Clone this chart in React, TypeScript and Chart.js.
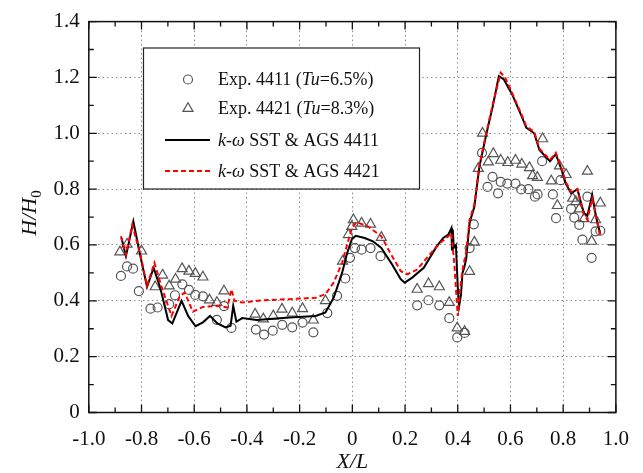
import React, { useEffect, useRef } from "react";
import { Chart, registerables } from "chart.js";

Chart.register(...registerables);

// ---------- data ----------
const exp4411X = [-0.878, -0.855, -0.832, -0.81, -0.766, -0.739, -0.695, -0.673, -0.645, -0.62, -0.596, -0.567, -0.514, -0.487, -0.459, -0.366, -0.335, -0.302, -0.266, -0.228, -0.189, -0.148, -0.095, -0.058, -0.027, -0.009, 0.01, 0.035, 0.069, 0.107, 0.246, 0.289, 0.33, 0.368, 0.398, 0.426, 0.445, 0.461, 0.492, 0.513, 0.532, 0.553, 0.563, 0.588, 0.619, 0.641, 0.668, 0.693, 0.703, 0.72, 0.761, 0.773, 0.79, 0.83, 0.842, 0.861, 0.873, 0.892, 0.908, 0.923, 0.941];
const exp4411Y = [0.489, 0.523, 0.515, 0.435, 0.372, 0.376, 0.388, 0.42, 0.459, 0.439, 0.421, 0.416, 0.332, 0.381, 0.303, 0.297, 0.279, 0.293, 0.314, 0.305, 0.322, 0.287, 0.356, 0.418, 0.48, 0.554, 0.589, 0.583, 0.589, 0.56, 0.384, 0.402, 0.384, 0.338, 0.269, 0.285, 0.589, 0.674, 0.93, 0.808, 0.844, 0.785, 0.826, 0.82, 0.82, 0.799, 0.8, 0.773, 0.781, 0.9, 0.781, 0.696, 0.832, 0.729, 0.698, 0.672, 0.619, 0.773, 0.554, 0.649, 0.651];

const exp4421X = [-0.882, -0.855, -0.8, -0.748, -0.72, -0.695, -0.671, -0.646, -0.62, -0.596, -0.567, -0.542, -0.514, -0.487, -0.369, -0.338, -0.3, -0.267, -0.228, -0.189, -0.148, -0.102, -0.037, -0.015, -0.002, 0.004, 0.035, 0.069, 0.11, 0.246, 0.289, 0.33, 0.368, 0.398, 0.426, 0.445, 0.463, 0.478, 0.494, 0.516, 0.535, 0.563, 0.59, 0.619, 0.643, 0.672, 0.684, 0.702, 0.722, 0.755, 0.778, 0.786, 0.811, 0.836, 0.848, 0.861, 0.879, 0.892, 0.908, 0.923, 0.941];
const exp4421Y = [0.575, 0.603, 0.578, 0.45, 0.492, 0.453, 0.477, 0.515, 0.506, 0.498, 0.485, 0.403, 0.394, 0.435, 0.352, 0.335, 0.346, 0.37, 0.356, 0.372, 0.331, 0.4, 0.542, 0.637, 0.666, 0.69, 0.678, 0.674, 0.627, 0.441, 0.461, 0.45, 0.394, 0.303, 0.29, 0.505, 0.61, 0.874, 1.0, 0.897, 0.927, 0.903, 0.895, 0.903, 0.889, 0.877, 0.848, 0.842, 0.98, 0.829, 0.741, 0.883, 0.852, 0.767, 0.755, 0.729, 0.694, 0.864, 0.613, 0.69, 0.75];

const sst4411X = [-0.876, -0.859, -0.831, -0.803, -0.779, -0.754, -0.729, -0.699, -0.683, -0.648, -0.623, -0.595, -0.567, -0.54, -0.512, -0.481, -0.462, -0.452, -0.44, -0.418, -0.363, -0.313, -0.238, -0.139, -0.102, -0.071, -0.039, -0.02, -0.002, 0.013, 0.047, 0.078, 0.11, 0.147, 0.184, 0.199, 0.227, 0.271, 0.32, 0.345, 0.364, 0.376, 0.378, 0.381, 0.385, 0.393, 0.4, 0.405, 0.412, 0.418, 0.425, 0.432, 0.445, 0.463, 0.482, 0.5, 0.513, 0.532, 0.556, 0.575, 0.606, 0.643, 0.66, 0.69, 0.71, 0.73, 0.75, 0.772, 0.79, 0.81, 0.83, 0.854, 0.878, 0.892, 0.91, 0.925, 0.94];
const sst4411Y = [0.625, 0.56, 0.684, 0.554, 0.45, 0.518, 0.447, 0.331, 0.319, 0.4, 0.346, 0.309, 0.323, 0.346, 0.319, 0.305, 0.311, 0.382, 0.325, 0.338, 0.331, 0.335, 0.34, 0.346, 0.358, 0.411, 0.5, 0.57, 0.62, 0.633, 0.625, 0.613, 0.589, 0.536, 0.477, 0.465, 0.483, 0.518, 0.595, 0.625, 0.637, 0.66, 0.58, 0.655, 0.59, 0.6, 0.45, 0.38, 0.42, 0.5, 0.52, 0.55, 0.68, 0.737, 0.88, 0.96, 1.016, 1.093, 1.205, 1.193, 1.14, 1.06, 1.02, 1.0, 0.94, 0.92, 0.9, 0.925, 0.88, 0.82, 0.785, 0.8, 0.715, 0.705, 0.78, 0.7, 0.64];

const sst4421X = [-0.878, -0.859, -0.835, -0.803, -0.779, -0.751, -0.723, -0.686, -0.654, -0.636, -0.605, -0.567, -0.512, -0.474, -0.459, -0.447, -0.418, -0.338, -0.238, -0.139, -0.102, -0.071, -0.039, -0.002, 0.016, 0.06, 0.11, 0.147, 0.184, 0.209, 0.246, 0.283, 0.333, 0.364, 0.376, 0.388, 0.4, 0.41, 0.418, 0.432, 0.445, 0.463, 0.482, 0.5, 0.513, 0.532, 0.563, 0.58, 0.606, 0.643, 0.66, 0.69, 0.71, 0.73, 0.75, 0.772, 0.79, 0.81, 0.83, 0.854, 0.878, 0.892, 0.91, 0.925, 0.941];
const sst4421Y = [0.631, 0.566, 0.672, 0.56, 0.453, 0.536, 0.447, 0.346, 0.418, 0.429, 0.361, 0.378, 0.382, 0.376, 0.441, 0.4, 0.394, 0.402, 0.406, 0.411, 0.424, 0.465, 0.536, 0.66, 0.682, 0.666, 0.631, 0.566, 0.506, 0.495, 0.512, 0.554, 0.607, 0.631, 0.643, 0.52, 0.346, 0.45, 0.51, 0.577, 0.69, 0.745, 0.885, 0.965, 1.02, 1.1, 1.217, 1.2, 1.145, 1.065, 1.025, 1.005, 0.945, 0.925, 0.905, 0.93, 0.885, 0.825, 0.79, 0.8, 0.71, 0.69, 0.765, 0.7, 0.631];

const legendLabels: [string, boolean][][] = [
  [["Exp. 4411 (", false], ["Tu", true], ["=6.5%)", false]],
  [["Exp. 4421 (", false], ["Tu", true], ["=8.3%)", false]],
  [["k", true], ["-", false], ["ω", true], [" SST & AGS 4411", false]],
  [["k", true], ["-", false], ["ω", true], [" SST & AGS 4421", false]],
];

const FONT = "'Liberation Serif', 'Times New Roman', serif";
const MARK = "#555555";

const zip = (xs: number[], ys: number[]) => xs.map((x, i) => ({ x, y: ys[i] }));
const fmt = (v: number) => (Math.abs(v) < 1e-9 ? "0" : Number(v).toFixed(1));

function drawRich(ctx: CanvasRenderingContext2D, x: number, y: number, segs: [string, boolean][], size: number) {
  let cx = x;
  for (const [t, it] of segs) {
    ctx.font = `${it ? "italic " : ""}${size}px ${FONT}`;
    ctx.fillText(t, cx, y);
    cx += ctx.measureText(t).width;
  }
}

const decorPlugin = {
  id: "decor",
  afterDatasetsDraw(chart: any) {
    const ctx: CanvasRenderingContext2D = chart.ctx;
    const { left, right, top, bottom } = chart.chartArea;
    const xs = chart.scales.x;
    const ys = chart.scales.y;
    ctx.save();
    // frame
    ctx.strokeStyle = "#111";
    ctx.lineWidth = 1.5;
    ctx.strokeRect(left, top, right - left, bottom - top);
    // ticks (inward)
    ctx.lineWidth = 1.3;
    for (let i = 0; i <= 20; i++) {
      const v = -1 + i * 0.1;
      const px = xs.getPixelForValue(v);
      const len = i % 2 === 0 ? 8 : 5;
      ctx.beginPath();
      ctx.moveTo(px, bottom);
      ctx.lineTo(px, bottom - len);
      ctx.moveTo(px, top);
      ctx.lineTo(px, top + len);
      ctx.stroke();
    }
    for (let i = 0; i <= 14; i++) {
      const v = i * 0.1;
      const py = ys.getPixelForValue(v);
      const len = i % 2 === 0 ? 8 : 5;
      ctx.beginPath();
      ctx.moveTo(left, py);
      ctx.lineTo(left + len, py);
      ctx.moveTo(right, py);
      ctx.lineTo(right - len, py);
      ctx.stroke();
    }
    // legend box
    const bx = 143.5, by = 48, bw = 276, bh = 141;
    ctx.fillStyle = "#fff";
    ctx.fillRect(bx, by, bw, bh);
    ctx.strokeStyle = "#222";
    ctx.lineWidth = 1.2;
    ctx.strokeRect(bx, by, bw, bh);
    const rowY = [79.5, 108.5, 140, 171];
    const symX = 188;
    // circle
    ctx.strokeStyle = MARK;
    ctx.lineWidth = 1.2;
    ctx.beginPath();
    ctx.arc(symX, rowY[0], 4.5, 0, Math.PI * 2);
    ctx.stroke();
    // triangle
    const r = 5.8;
    ctx.beginPath();
    ctx.moveTo(symX, rowY[1] - r);
    ctx.lineTo(symX + r * Math.sin(Math.PI * 2 / 3), rowY[1] + r / 2);
    ctx.lineTo(symX - r * Math.sin(Math.PI * 2 / 3), rowY[1] + r / 2);
    ctx.closePath();
    ctx.stroke();
    // black line
    ctx.strokeStyle = "#000";
    ctx.lineWidth = 2;
    ctx.beginPath();
    ctx.moveTo(165, rowY[2]);
    ctx.lineTo(210, rowY[2]);
    ctx.stroke();
    // red dashed
    ctx.strokeStyle = "#ff0000";
    ctx.setLineDash([5, 3]);
    ctx.beginPath();
    ctx.moveTo(165, rowY[3]);
    ctx.lineTo(210, rowY[3]);
    ctx.stroke();
    ctx.setLineDash([]);
    ctx.fillStyle = "#111";
    ctx.textBaseline = "middle";
    ctx.textAlign = "left";
    legendLabels.forEach((segs, i) => drawRich(ctx, 218, rowY[i] + 1, segs, 18));

    // axis titles
    ctx.textBaseline = "alphabetic";
    ctx.fillStyle = "#111";
    ctx.font = `italic 22px ${FONT}`;
    ctx.textAlign = "center";
    ctx.fillText("X/L", (left + right) / 2, 468);
    // y title rotated
    ctx.save();
    ctx.translate(36, 213);
    ctx.rotate(-Math.PI / 2);
    ctx.textAlign = "left";
    ctx.font = `italic 22px ${FONT}`;
    const main = "H/H";
    const w1 = ctx.measureText(main).width;
    ctx.font = `15px ${FONT}`;
    const w2 = ctx.measureText("0").width;
    const sx = -(w1 + w2) / 2;
    ctx.font = `italic 22px ${FONT}`;
    ctx.fillText(main, sx, 0);
    ctx.font = `15px ${FONT}`;
    ctx.fillText("0", sx + w1, 5);
    ctx.restore();
    ctx.restore();
  },
};

export default function App() {
  const ref = useRef<HTMLCanvasElement | null>(null);
  useEffect(() => {
    if (!ref.current) return;
    const chart = new Chart(ref.current, {
      type: "scatter",
      data: {
        datasets: [
          {
            type: "line",
            label: "k-ω SST & AGS 4421",
            data: zip(sst4421X, sst4421Y),
            borderColor: "#ff0000",
            borderWidth: 2,
            borderDash: [5, 3],
            pointRadius: 0,
            tension: 0,
            fill: false,
            order: 0,
          } as any,
          {
            type: "line",
            label: "k-ω SST & AGS 4411",
            data: zip(sst4411X, sst4411Y),
            borderColor: "#000000",
            borderWidth: 2,
            pointRadius: 0,
            tension: 0,
            fill: false,
            order: 1,
          } as any,
          {
            label: "Exp. 4411",
            data: zip(exp4411X, exp4411Y),
            pointStyle: "circle",
            pointRadius: 4.5,
            borderColor: MARK,
            backgroundColor: "rgba(0,0,0,0)",
            pointBorderWidth: 1.2,
            order: 2,
          } as any,
          {
            label: "Exp. 4421",
            data: zip(exp4421X, exp4421Y),
            pointStyle: "triangle",
            pointRadius: 5.8,
            borderColor: MARK,
            backgroundColor: "rgba(0,0,0,0)",
            pointBorderWidth: 1.2,
            order: 2,
          } as any,
        ],
      },
      options: {
        responsive: false,
        animation: false,
        events: [],
        layout: { padding: { left: 0, top: 18.5, right: 17.3, bottom: 0 } },
        plugins: { legend: { display: false }, tooltip: { enabled: false } },
        scales: {
          x: {
            type: "linear",
            min: -1,
            max: 1,
            afterFit: (s: any) => { s.height = 60.5; },
            ticks: {
              stepSize: 0.2,
              autoSkip: false,
              maxRotation: 0,
              padding: 14,
              color: "#111",
              font: { family: FONT, size: 21 },
              callback: (v: any) => fmt(v),
            },
            grid: {
              drawTicks: false,
              color: (c: any) => (c.tick && (Math.abs(c.tick.value) > 0.999) ? "rgba(0,0,0,0)" : "#8a8a8a"),
              lineWidth: 1,
            },
            border: { display: false, dash: [1.5, 3] },
          },
          y: {
            type: "linear",
            min: 0,
            max: 1.4,
            afterFit: (s: any) => { s.width = 88.8; },
            ticks: {
              stepSize: 0.2,
              autoSkip: false,
              padding: 9,
              color: "#111",
              font: { family: FONT, size: 21 },
              callback: (v: any) => fmt(v),
            },
            grid: {
              drawTicks: false,
              color: (c: any) => (c.tick && (c.tick.value < 0.001 || c.tick.value > 1.399) ? "rgba(0,0,0,0)" : "#8a8a8a"),
              lineWidth: 1,
            },
            border: { display: false, dash: [1.5, 3] },
          },
        },
      },
      plugins: [decorPlugin],
    });
    return () => chart.destroy();
  }, []);
  return (
    <div style={{ position: "absolute", left: 0, top: 0, width: 643, height: 473, background: "#fff" }}>
      <canvas ref={ref} width={643} height={473} style={{ display: "block" }} />
    </div>
  );
}
